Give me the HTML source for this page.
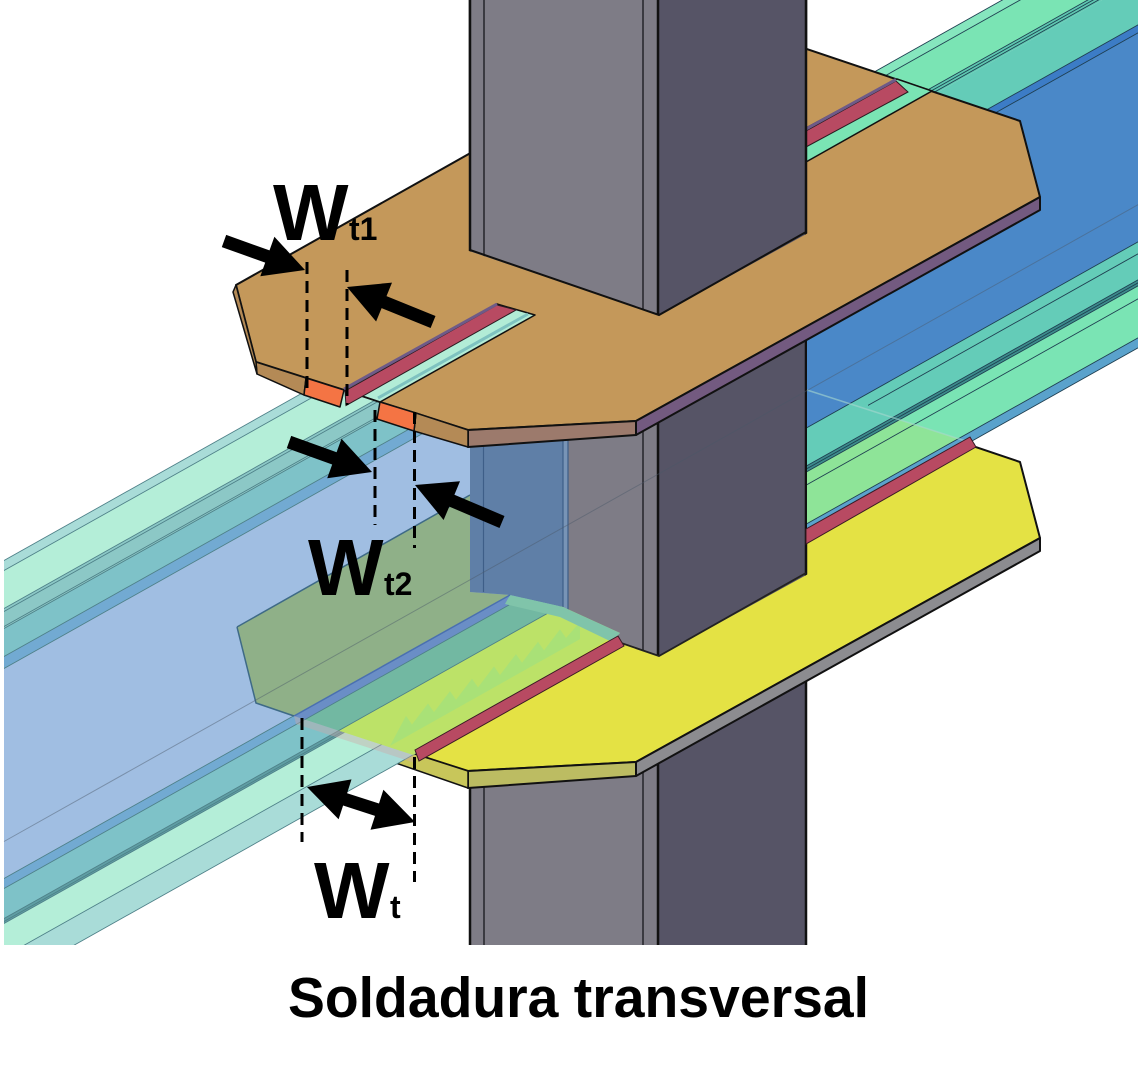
<!DOCTYPE html>
<html><head><meta charset="utf-8">
<style>html,body{margin:0;padding:0;background:#fff;overflow:hidden}svg{display:block}</style>
</head><body>
<svg xmlns="http://www.w3.org/2000/svg" width="1141" height="1065" viewBox="0 0 1141 1065">
<defs>
<clipPath id="cUp"><polygon points="466,0 810,0 810,232 659,315 466,250"/></clipPath>
<clipPath id="cMid"><polygon points="466,380 810,280 810,573 659,656 466,591"/></clipPath>
<clipPath id="cL"><rect x="4" y="0" width="559" height="945"/></clipPath>
<clipPath id="cR"><rect x="807" y="0" width="331" height="945"/></clipPath>
<clipPath id="cP"><polygon points="510,595 563,607 620,633 413,755 294,716"/></clipPath>
</defs>
<rect width="1141" height="1065" fill="#fff"/>

<!-- column full -->
<rect x="470" y="0" width="188" height="945" fill="#7e7c86"/>
<rect x="658" y="0" width="148" height="945" fill="#565466"/>
<path d="M470 0V945M658 0V945M806 0V945" stroke="#111" stroke-width="2.5"/>
<path d="M484 0V945M643 0V945" stroke="#2a2a30" stroke-width="1.6"/>

<!-- lower plate -->
<polygon points="237,627 712,358 1020,462 1040,538 636,762 468,771 256,703" fill="#e4e244" stroke="#111" stroke-width="2" stroke-linejoin="round"/>
<polygon points="1040,538 1040,551 636,776 636,762" fill="#8c8c90" stroke="#111" stroke-width="2" stroke-linejoin="round"/>
<polygon points="636,762 636,776 468,788 468,771" fill="#bcbc62" stroke="#111" stroke-width="2" stroke-linejoin="round"/>
<polygon points="256,703 468,771 468,788 257,715" fill="#c8c65a" stroke="#111" stroke-width="1.5" stroke-linejoin="round"/>

<!-- column middle (over lower plate) -->
<g clip-path="url(#cMid)">
<rect x="470" y="0" width="188" height="945" fill="#7e7c86"/>
<rect x="658" y="0" width="148" height="945" fill="#565466"/>
<path d="M470 0V945M658 0V945M806 0V945" stroke="#111" stroke-width="2.5"/>
<path d="M484 0V945M643 0V945" stroke="#2a2a30" stroke-width="1.6"/>
</g>
<polyline points="470,591 659,656 806,573" fill="none" stroke="#222" stroke-width="1.8"/>

<!-- left beam -->
<g clip-path="url(#cL)"><g transform="matrix(1,-0.5615,0,1,0,562.8)">
<rect x="0" y="0" width="600" height="10" fill="#a9dcd8"/>
<rect x="0" y="10" width="600" height="38" fill="#b4eed8"/>
<rect x="0" y="48" width="600" height="20" fill="#8cc8c6"/>
<rect x="0" y="68" width="600" height="28" fill="#7ec2c8"/>
<rect x="0" y="96" width="600" height="12" fill="#72aad2"/>
<rect x="0" y="108" width="600" height="210" fill="#a0bee2"/>
<rect x="0" y="318" width="600" height="10" fill="#72aad2"/>
<rect x="0" y="328" width="600" height="30" fill="#7ec2c8"/>
<rect x="0" y="358" width="600" height="5" fill="#5f9ea4"/>
<rect x="0" y="363" width="600" height="33" fill="#b4eed8"/>
<rect x="0" y="396" width="600" height="28" fill="#a9dcd8"/>
<path d="M0 0H600M0 10H600M0 48H600M0 51H600M0 66H600M0 68H600M0 96H600M0 108H600M0 318H600M0 328H600M0 358H600M0 361H600M0 363H600M0 396H600M0 424H600" stroke="#4e8088" stroke-width="1" fill="none"/>
</g></g>

<!-- lower plate seen through web, column tint, bottom flange over plate -->
<polygon points="237,627 470,495 470,592 510,595 294,716 256,703" fill="#8fb088"/>
<path d="M237,627 L470,495 M237,627 L256,703 L294,716" stroke="#3e6a86" stroke-width="1.5" fill="none"/>
<polygon points="470,430 563,425 563,607 510,595 470,592" fill="#5f7fa7"/>
<rect x="563" y="425" width="5" height="185" fill="#7894b6"/>
<path d="M483.5 430V592M563 425V607M568 425V610" stroke="#3e5e88" stroke-width="1.2"/>
<g clip-path="url(#cP)"><g transform="matrix(1,-0.5615,0,1,0,562.8)">
<rect x="250" y="280" width="400" height="48" fill="#6a8ec6"/>
<rect x="250" y="328" width="400" height="30" fill="#72b8a2"/>
<rect x="250" y="358" width="400" height="90" fill="#bce268"/>
<polygon points="390,402 406,381 412,393 428,381 434,393 450,381 456,393 472,381 478,393 494,381 500,393 516,381 522,393 538,381 544,393 560,381 566,393 580,385 580,402" fill="#a6e07a" opacity="0.85"/>
<path d="M250 328H650M250 358H650" stroke="#4e8088" stroke-width="1" fill="none"/>
</g></g>
<polygon points="510,595 563,607 620,633 612,642 560,617 505,604" fill="#80c4aa"/>
<path d="M294,716 L510,595" stroke="#4a70b0" stroke-width="1.5"/>
<polygon points="294,716 413,755 415,763 296,724" fill="#d0a8a8" opacity="0.4"/>
<polygon points="415,750 618,636 624,646 419,761" fill="#b84a62" stroke="#3a1a24" stroke-width="1"/>

<!-- right beam -->
<g clip-path="url(#cR)">
<g transform="matrix(1,-0.5615,0,1,0,562.8)">
<rect x="780" y="0" width="380" height="10" fill="#86e6be"/>
<rect x="780" y="10" width="380" height="38" fill="#7ae4b4"/>
<rect x="780" y="48" width="380" height="8" fill="#5ec8b0"/>
<rect x="780" y="56" width="380" height="45" fill="#64ccb8"/>
<rect x="780" y="101" width="380" height="8" fill="#3c7cc6"/>
<rect x="780" y="109" width="380" height="209" fill="#4a88c8"/>
<rect x="780" y="318" width="380" height="38" fill="#64ccb8"/>
<rect x="780" y="356" width="380" height="6" fill="#3c8c8c"/>
<rect x="780" y="362" width="380" height="52" fill="#7ae4b4"/>
<rect x="780" y="414" width="380" height="10" fill="#5aa2cc"/>
</g>
<polygon points="807,472 899.6,419.7 958.6,438.5 807,524" fill="#8ee498"/>
<g transform="matrix(1,-0.5615,0,1,0,562.8)">
<path d="M780 0H1160M780 10H1160M780 48H1160M780 51H1160M780 54H1160M780 101H1160M780 109H1160M780 318H1160M868 330H1160M780 356H1160M780 359H1160M780 362H1160M780 375H1160M780 414H1160M780 424H1160" stroke="#1e3e50" stroke-width="1" fill="none"/>
</g>
</g>
<line x1="807" y1="390" x2="975" y2="444" stroke="#a8d8d0" stroke-width="1.5" opacity="0.6"/>
<polygon points="806,529 970,437 976,447 806,544" fill="#b84a62" stroke="#3a1a24" stroke-width="1"/>

<!-- top plate -->
<polygon points="236,285 712,17 1020,121 1040,197 636,421 468,430 380,402 344,390 256,362" fill="#c4985a" stroke="#111" stroke-width="2" stroke-linejoin="round"/>
<polygon points="1040,197 1040,210 636,435 636,421" fill="#735a80" stroke="#111" stroke-width="2" stroke-linejoin="round"/>
<polygon points="636,421 636,435 468,447 468,430" fill="#9c7a6c" stroke="#111" stroke-width="2" stroke-linejoin="round"/>
<polygon points="416,413 468,430 468,447 414,431" fill="#b48a56" stroke="#111" stroke-width="1.5" stroke-linejoin="round"/>
<polygon points="380,402 416,413 414,431 377,419" fill="#f47444" stroke="#111" stroke-width="1.5" stroke-linejoin="round"/>
<polygon points="256,362 306,378 304,395 257,374" fill="#b48a56" stroke="#111" stroke-width="1.5" stroke-linejoin="round"/>
<polygon points="306,378 344,390 340,407 304,395" fill="#f47444" stroke="#111" stroke-width="1.5" stroke-linejoin="round"/>
<polygon points="236,285 256,362 257,374 233,292" fill="#b48a56" stroke="#111" stroke-width="1.5" stroke-linejoin="round"/>

<!-- slots and welds -->
<polygon points="344,390 497,304 535,315 380,402" fill="#b2ecd6" stroke="#111" stroke-width="1.5" stroke-linejoin="round"/>
<line x1="378" y1="398" x2="528" y2="314" stroke="#7ec2c0" stroke-width="3"/>
<polygon points="345,391 497,305 516,310 346,405.5" fill="#b84a62" stroke="#2a1a20" stroke-width="1"/>
<line x1="344" y1="389" x2="497" y2="304" stroke="#6e5a88" stroke-width="3"/>
<polygon points="806,128 897,79 932,91 806,162" fill="#7ae4b4" stroke="#111" stroke-width="1.5" stroke-linejoin="round"/>
<polygon points="806,131 896,81 908,92 806,147" fill="#b84a62" stroke="#2a1a20" stroke-width="1"/>
<line x1="806" y1="129" x2="896" y2="79.5" stroke="#6e5a88" stroke-width="3"/>

<!-- column upper (over top plate) -->
<g clip-path="url(#cUp)">
<rect x="470" y="0" width="188" height="945" fill="#7e7c86"/>
<rect x="658" y="0" width="148" height="945" fill="#565466"/>
<path d="M470 0V945M658 0V945M806 0V945" stroke="#111" stroke-width="2.5"/>
<path d="M484 0V945M643 0V945" stroke="#2a2a30" stroke-width="1.6"/>
</g>
<polyline points="470,250 659,315 806,232" fill="none" stroke="#111" stroke-width="2"/>

<!-- faint axis line -->
<line x1="4" y1="841.5" x2="1138" y2="204.7" stroke="#4a5868" stroke-width="1" opacity="0.45"/>

<!-- dashed dimension lines -->
<g stroke="#000" stroke-width="3" stroke-dasharray="12 7" fill="none">
<line x1="307" y1="262" x2="307" y2="388"/>
<line x1="347" y1="270" x2="347" y2="405"/>
<line x1="375" y1="410" x2="375" y2="525"/>
<line x1="414.5" y1="412" x2="414.5" y2="548"/>
<line x1="302" y1="718" x2="302" y2="842"/>
<line x1="414.5" y1="757" x2="414.5" y2="882"/>
</g>

<!-- arrows -->
<g fill="#000">
<polygon points="221.8,247.1 265.2,262.6 260.3,276.3 305,270 274.4,236.8 269.5,250.4 226.2,234.9"/>
<polygon points="435.5,316.0 386.5,296.1 392.0,282.6 347,287 376.1,321.5 381.6,308.1 430.6,328.0"/>
<polygon points="286.8,448.1 332.2,464.5 327.2,478.2 372,472 341.5,438.7 336.6,452.3 291.2,435.9"/>
<polygon points="504.5,516.0 454.4,494.7 460.0,481.3 415,485 443.6,520.0 449.3,506.6 499.5,528.0"/>
<polygon points="307,787 338.6,819.3 343.1,805.5 375.0,815.9 370.5,829.7 415,822 383.4,789.7 379.0,803.5 347.1,793.2 351.5,779.4"/>
</g>

<!-- labels -->
<g font-family="'Liberation Sans', Arial, sans-serif" font-weight="bold" fill="#000">
<text x="273" y="240" font-size="80">W</text>
<text x="349" y="240" font-size="32">t1</text>
<text x="308" y="595" font-size="80">W</text>
<text x="384" y="595" font-size="32">t2</text>
<text x="314" y="918" font-size="80">W</text>
<text x="390" y="918" font-size="32">t</text>
<text x="578.5" y="1017" font-size="57" text-anchor="middle" textLength="581" lengthAdjust="spacingAndGlyphs">Soldadura transversal</text>
</g>
</svg>
</body></html>
